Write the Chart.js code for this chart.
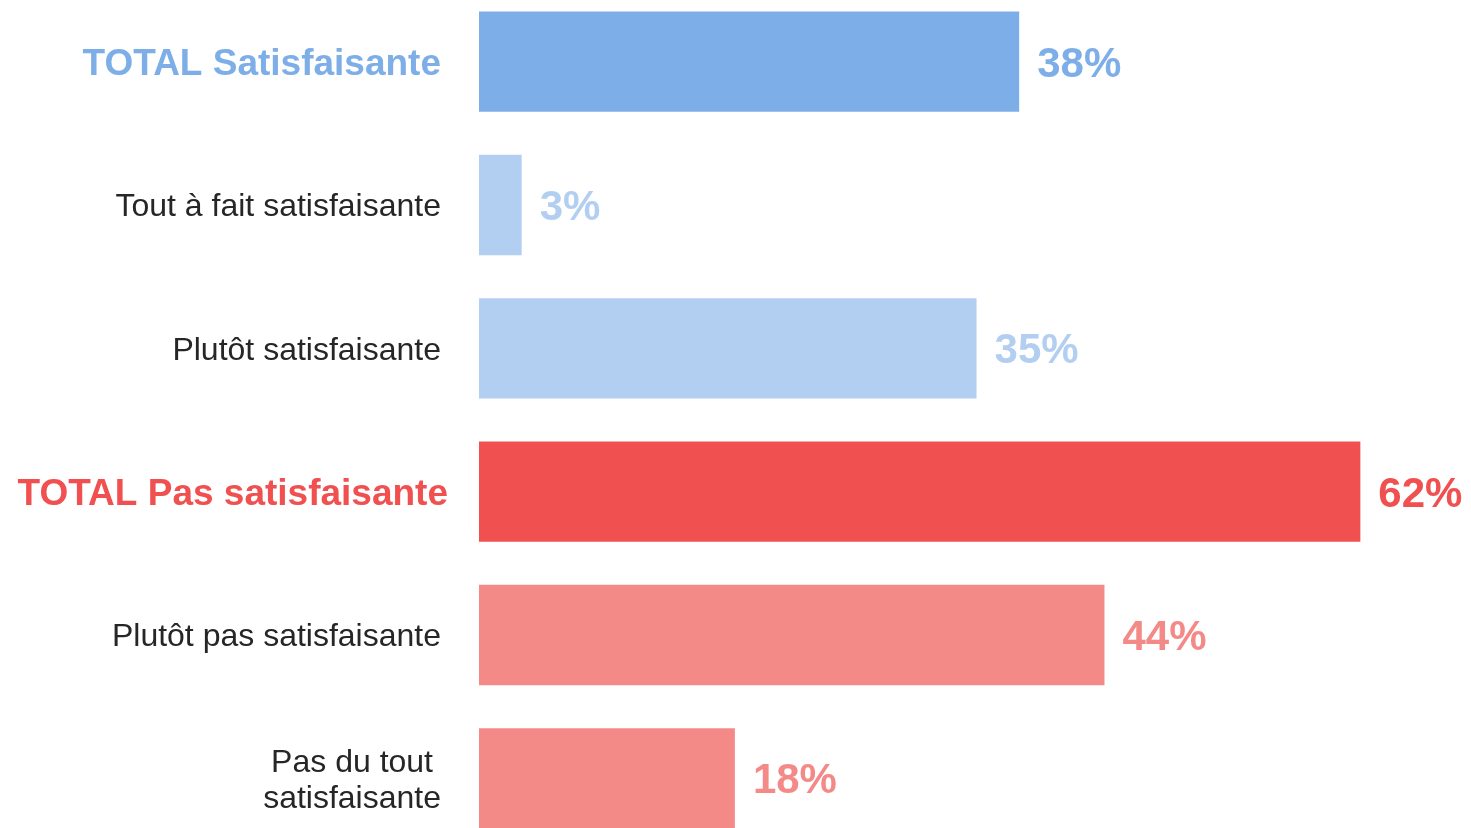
<!DOCTYPE html>
<html>
<head>
<meta charset="utf-8">
<script src="https://cdn.jsdelivr.net/npm/chart.js@4"></script>
<style>
  html, body { margin: 0; padding: 0; background: #ffffff; overflow: hidden; }
  #wrap { position: absolute; left: 0; top: -10px; width: 1471px; height: 860px; }
</style>
</head>
<body>
<div id="wrap"><canvas id="c"></canvas></div>
<script>
const categories = [
  ["TOTAL Satisfaisante"],
  ["Tout à fait satisfaisante"],
  ["Plutôt satisfaisante"],
  ["TOTAL Pas satisfaisante"],
  ["Plutôt pas satisfaisante"],
  ["Pas du tout", "satisfaisante"]
];
const values = [38, 3, 35, 62, 44, 18];
const isTotal = [true, false, false, true, false, false];

const barColors = ["#7daee7", "#b2cef1", "#b2cef1", "#f05050", "#f48a88", "#f48a88"];
const labelColors = ["#7daee7", "#262626", "#262626", "#f05050", "#262626", "#262626"];
const valueColors = ["#7daee7", "#b2cef1", "#b2cef1", "#f05050", "#f48a88", "#f48a88"];

const FONT = "'Liberation Sans', Arial, sans-serif";

const labelPlugin = {
  id: 'customLabels',
  afterDatasetsDraw(chart) {
    const ctx = chart.ctx;
    const area = chart.chartArea;
    const meta = chart.getDatasetMeta(0);
    ctx.save();
    ctx.textBaseline = 'alphabetic';
    meta.data.forEach((bar, i) => {
      const cy = bar.y;
      // category label
      const lines = categories[i];
      const size = isTotal[i] ? 37 : 32;
      ctx.font = (isTotal[i] ? 'bold ' : '') + size + 'px ' + FONT;
      ctx.fillStyle = labelColors[i];
      const right = area.left - (i === 3 ? 31 : 38);
      const widths = lines.map(l => ctx.measureText(l).width);
      const maxW = Math.max(...widths);
      const lineH = 36;
      const cap = size * 0.716;
      lines.forEach((l, k) => {
        const by = cy + cap / 2 + (k - (lines.length - 1) / 2) * lineH;
        ctx.textAlign = 'center';
        ctx.fillText(l, right - maxW / 2, by);
      });
      // value label
      ctx.font = 'bold 42px ' + FONT;
      ctx.fillStyle = valueColors[i];
      ctx.textAlign = 'left';
      ctx.fillText(values[i] + '%', bar.x + 18, cy + 15);
    });
    ctx.restore();
  }
};

new Chart(document.getElementById('c'), {
  type: 'bar',
  data: {
    labels: categories,
    datasets: [{
      data: values,
      backgroundColor: barColors,
      borderWidth: 0,
      barPercentage: 0.7,
      categoryPercentage: 1.0
    }]
  },
  options: {
    indexAxis: 'y',
    responsive: true,
    maintainAspectRatio: false,
    animation: false,
    layout: { padding: { left: 479, right: 68, top: 0, bottom: 0 } },
    plugins: { legend: { display: false }, tooltip: { enabled: false } },
    scales: {
      x: { display: false, min: 0, max: 65, grid: { display: false } },
      y: { display: false, grid: { display: false } }
    }
  },
  plugins: [labelPlugin]
});
</script>
</body>
</html>
